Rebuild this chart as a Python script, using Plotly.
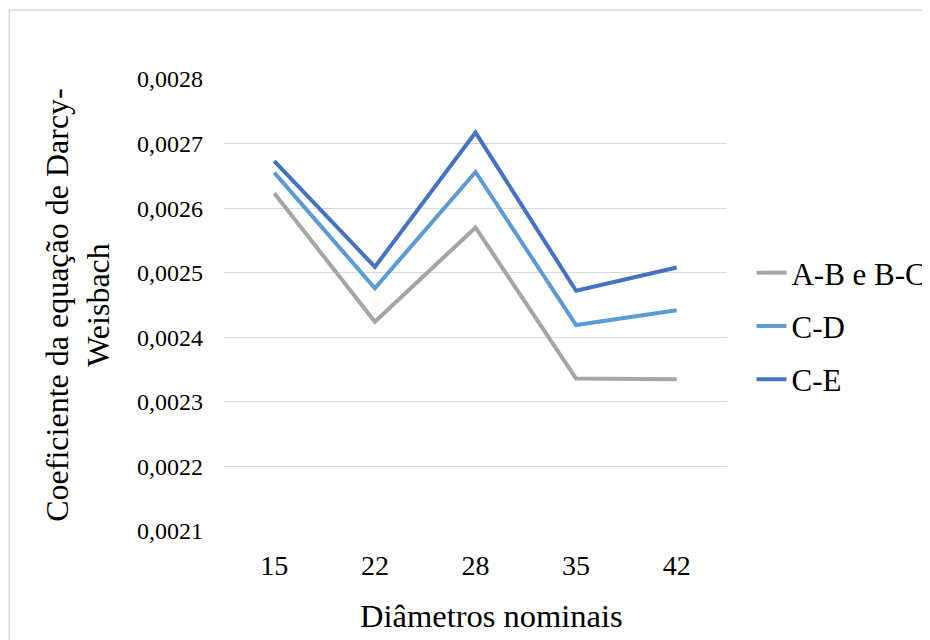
import plotly.graph_objects as go

categories = ["15", "22", "28", "35", "42"]
series_names = ["A-B e B-C", "C-D", "C-E"]
ab_bc = [0.002623, 0.002424, 0.002570, 0.002336, 0.002335]
c_d = [0.002655, 0.002476, 0.002656, 0.002419, 0.002442]
c_e = [0.002673, 0.002509, 0.002717, 0.002472, 0.002508]
y_ticks = [0.0021, 0.0022, 0.0023, 0.0024, 0.0025, 0.0026, 0.0027, 0.0028]

colors = ["#A5A5A5", "#5B9BD5", "#4472C4"]
FONT = "Liberation Serif"

# page body has an 8px margin; figure coordinates are screen - 8
OFF = 8
W, H = 922, 632
L, T = 224 - OFF, 79 - OFF
PR, PB = 727.5 - OFF, 531 - OFF
R, B = W - PR, H - PB
pw = W - L - R
ph = H - T - B

fig = go.Figure()
for name, vals, col in zip(series_names, [ab_bc, c_d, c_e], colors):
    fig.add_trace(go.Scatter(
        x=categories, y=vals, name=name, mode="lines",
        line=dict(color=col, width=4),
        legendgroup=name,
    ))

fig.update_layout(
    width=W, height=H,
    margin=dict(l=L, r=R, t=T, b=B, autoexpand=False),
    paper_bgcolor="white", plot_bgcolor="white",
    separators=", ",
    font=dict(family=FONT, color="#000000"),
    showlegend=True,
    legend=dict(
        x=(752 - OFF - L) / pw, y=(PB - (246 - OFF)) / ph,
        xanchor="left", yanchor="top",
        font=dict(family=FONT, size=31, color="#000000"),
        tracegroupgap=10, bgcolor="rgba(0,0,0,0)",
    ),
    xaxis=dict(
        type="category", categoryorder="array", categoryarray=categories,
        range=[-0.5, len(categories) - 0.5],
        showgrid=False, showline=False, zeroline=False,
        tickfont=dict(family=FONT, size=28, color="#000000"),
        ticks="", ticklabelstandoff=15,
    ),
    yaxis=dict(
        range=[y_ticks[0], y_ticks[-1]],
        tickvals=y_ticks, tickformat=".4f",
        showgrid=True, gridcolor="#D9D9D9", gridwidth=1.3,
        showline=False, zeroline=False, ticks="",
        tickfont=dict(family=FONT, size=24, color="#000000"),
        ticklabelstandoff=20,
        title=dict(text="Coeficiente da equação de Darcy-<br>Weisbach",
                   font=dict(family=FONT, size=32, color="#000000"), standoff=17),
    ),
    annotations=[dict(
        text="Diâmetros nominais", showarrow=False,
        xref="paper", yref="paper",
        x=(492 - OFF - L) / pw, y=(PB - (616 - OFF)) / ph,
        xanchor="center", yanchor="middle",
        font=dict(family=FONT, size=32.5, color="#000000"),
    )],
    shapes=[dict(
        type="rect", xref="paper", yref="paper",
        x0=(1 - L) / pw, x1=(W + 20 - L) / pw,
        y0=(PB - (H + 20)) / ph, y1=(PB - (10 - OFF)) / ph,
        line=dict(color="#D9D9D9", width=1.5), fillcolor="rgba(0,0,0,0)", layer="below",
    )],
)

fig.write_html("out.html")
